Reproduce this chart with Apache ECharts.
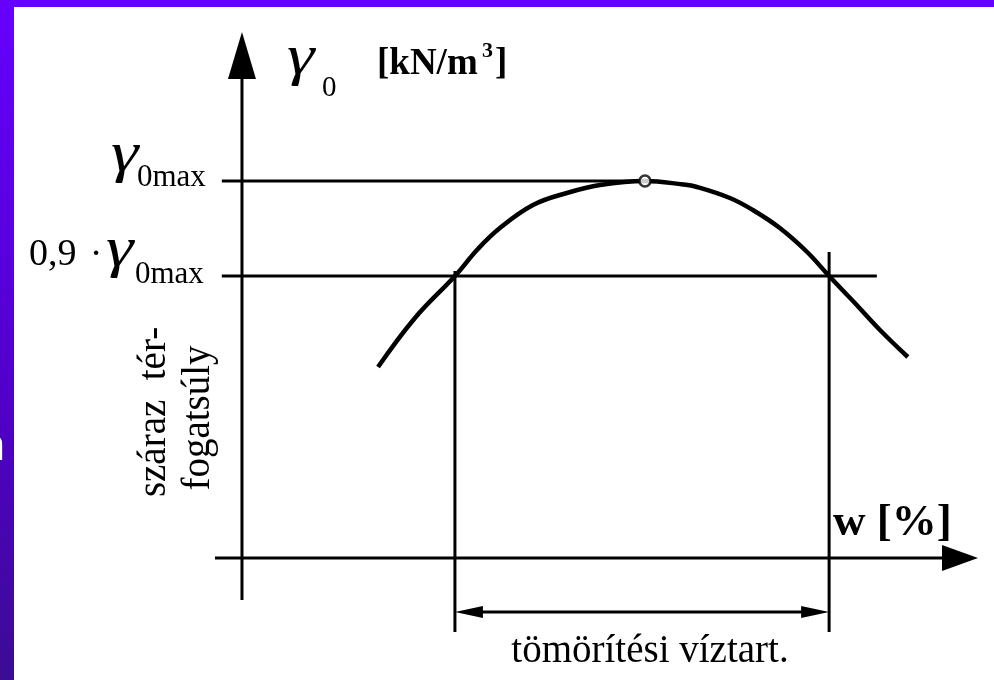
<!DOCTYPE html>
<html>
<head>
<meta charset="utf-8">
<script src="https://cdn.jsdelivr.net/npm/echarts@6/dist/echarts.min.js"></script>
<style>
  html, body { margin: 0; padding: 0; background: #fff; }
  #chart { width: 994px; height: 680px; }
</style>
</head>
<body>
<div id="chart"></div>
<script>
// Proctor compaction curve: dry unit weight γ0 [kN/m³] against water content w [%]
const waterContent  = [4.39, 5.58, 6.87, 7.61, 8.32, 9.39, 10.48, 11.55, 13.0, 14.23, 14.68, 15.74, 16.48, 17.35, 18.23, 18.94, 19.77, 20.58, 21.48];
const dryUnitWeight = [15.28, 16.26, 17.1, 17.64, 18.06, 18.52, 18.76, 18.92, 19.0, 18.93, 18.88, 18.66, 18.42, 18.06, 17.58, 17.1, 16.56, 16.02, 15.48];

const gammaMax = 19.0;            // γ0max
const optimumWater = 13.0;        // w at γ0max
const ratio = 0.9;                // 0,9·γ0max
const compactionRange = [6.87, 18.94];   // w where the curve reaches 0,9·γ0max
const rangeTops = [17.2, 17.58];         // upper ends of the two range verticals
const rangeBottom = 9.98;                // lower end of the range verticals
const dimensionLevel = 10.38;            // γ0 level of the range dimension arrow

const axisCross = [0, 11.46];            // where the w and γ0 axes meet
const wAxisSpan = [-0.87, 23.743];
const gammaAxisSpan = [10.62, 21.98];
const refLineStart = -0.65;              // left end of the γ0max reference lines
const lowerRefEnd = 20.48;               // right end of the 0,9·γ0max line

const wView = [-0.87, 23.743];
const gammaView = [9.82, 21.98];

const SERIF = '"Liberation Serif", "Times New Roman", serif';

function segment(name, a, b, width) {
  return {
    type: 'line', name, data: [a, b], symbol: 'none', silent: true, z: 3,
    lineStyle: { color: '#000', width: width, cap: 'butt' }
  };
}

// Straight line with filled triangular heads, placed in data coordinates
function arrowSeries(name, from, to, head) {
  return {
    type: 'custom', name, coordinateSystem: 'cartesian2d', silent: true, z: 4,
    data: [[from[0], from[1], to[0], to[1]]],
    encode: { x: [0, 2], y: [1, 3] },
    renderItem(params, api) {
      const a = api.coord([api.value(0), api.value(1)]);
      const b = api.coord([api.value(2), api.value(3)]);
      const dx = b[0] - a[0], dy = b[1] - a[1];
      const L = Math.hypot(dx, dy), ux = dx / L, uy = dy / L;
      const nx = -uy, ny = ux;
      const tri = (tip, sx, sy) => {
        const bx = tip[0] - sx * head.len, by = tip[1] - sy * head.len;
        return {
          type: 'polygon',
          shape: { points: [tip, [bx + nx * head.half, by + ny * head.half], [bx - nx * head.half, by - ny * head.half]] },
          style: { fill: '#000' }
        };
      };
      const children = [];
      let s = a, e = b;
      if (head.start) { children.push(tri(a, -ux, -uy)); s = [a[0] + ux * head.len * 0.7, a[1] + uy * head.len * 0.7]; }
      if (head.end)   { children.push(tri(b, ux, uy));   e = [b[0] - ux * head.len * 0.7, b[1] - uy * head.len * 0.7]; }
      children.unshift({
        type: 'line', shape: { x1: s[0], y1: s[1], x2: e[0], y2: e[1] },
        style: { stroke: '#000', lineWidth: head.width }
      });
      return { type: 'group', children };
    }
  };
}

// Text element; (x, y) is the left end (or centre) of the em-middle line
function label(text, x, y, size, style, extra) {
  return Object.assign({
    type: 'text', x, y, silent: true, z: 10,
    style: Object.assign({
      text, fontFamily: SERIF, fontSize: size, fill: '#000',
      align: 'left', verticalAlign: 'middle'
    }, style || {})
  }, extra || {});
}

// italic gamma, slightly widened
const gamma = (x, y) => label('γ', x, y, 58, { fontStyle: 'italic' }, { scaleX: 1.2 });

const curve = waterContent.map((w, i) => [w, dryUnitWeight[i]]);
const lowerLevel = +(ratio * gammaMax).toFixed(2);

const chart = echarts.init(document.getElementById('chart'), null, { renderer: 'canvas' });

chart.setOption({
  animation: false,
  backgroundColor: '#fff',
  grid: { left: 215, right: 16, top: 32, bottom: 40, show: false },
  xAxis: { type: 'value', min: wView[0], max: wView[1], show: false },
  yAxis: { type: 'value', min: gammaView[0], max: gammaView[1], show: false },
  graphic: [
    {
      type: 'rect', z: -10, silent: true,
      shape: { x: 0, y: 0, width: 994, height: 680 },
      style: {
        fill: new echarts.graphic.LinearGradient(0, 0, 0, 1, [
          { offset: 0, color: '#6600ff' },
          { offset: 0.6, color: '#5000c8' },
          { offset: 1, color: '#3b0c94' }
        ])
      }
    },
    {
      type: 'text', x: 5, y: 448, z: -5, silent: true,
      style: { text: 'n', fontFamily: '"Liberation Sans", Arial, sans-serif', fontSize: 44, fill: '#fff', align: 'right', verticalAlign: 'middle' }
    },
    {
      type: 'rect', z: -4, silent: true,
      shape: { x: 14, y: 7, width: 980, height: 673 },
      style: { fill: '#fff' }
    },
    // vertical axis caption
    gamma(287, 59),
    label('0', 322, 88, 29),
    label('[kN/m', 377, 64, 37, { fontWeight: 'bold' }),
    label('3', 482, 51, 22, { fontWeight: 'bold' }),
    label(']', 495, 64, 37, { fontWeight: 'bold' }),
    // level captions
    gamma(111, 156),
    label('0max', 137, 178, 31),
    label('0,9', 29, 255, 38),
    label('·', 96, 255, 38, { align: 'center' }),
    gamma(106, 251),
    label('0max', 135, 275, 31),
    // horizontal axis captions
    label('w [%]', 833, 523, 45, { fontWeight: 'bold' }),
    label('tömörítési víztart.', 650, 652, 39, { align: 'center' }),
    // rotated vertical caption
    label('száraz  tér-', 155, 412, 39, { align: 'center' }, { rotation: Math.PI / 2 }),
    label('fogatsúly', 199, 418, 39, { align: 'center' }, { rotation: Math.PI / 2 })
  ],
  series: [
    segment('γ0max', [refLineStart, gammaMax], [optimumWater, gammaMax], 3),
    segment('0,9·γ0max', [refLineStart, lowerLevel], [lowerRefEnd, lowerLevel], 3),
    segment('w1', [compactionRange[0], rangeTops[0]], [compactionRange[0], rangeBottom], 3),
    segment('w2', [compactionRange[1], rangeTops[1]], [compactionRange[1], rangeBottom], 3),
    arrowSeries('w axis', [wAxisSpan[0], axisCross[1]], [wAxisSpan[1], axisCross[1]], { end: true, len: 36, half: 13, width: 3 }),
    arrowSeries('γ0 axis', [axisCross[0], gammaAxisSpan[0]], [axisCross[0], gammaAxisSpan[1]], { end: true, len: 47, half: 14, width: 3 }),
    arrowSeries('tömörítési víztart.', [compactionRange[0], dimensionLevel], [compactionRange[1], dimensionLevel], { start: true, end: true, len: 28, half: 6, width: 3 }),
    {
      type: 'line', name: 'γ0(w)', data: curve, smooth: 0.4, symbol: 'none', silent: true, z: 5,
      lineStyle: { color: '#000', width: 4.5 }
    },
    {
      type: 'scatter', name: 'γ0max point', data: [[optimumWater, gammaMax]], silent: true, z: 6,
      symbol: 'circle', symbolSize: 11,
      itemStyle: { color: '#fff', borderColor: '#000', borderWidth: 2.5 }
    }
  ]
});
</script>
</body>
</html>
